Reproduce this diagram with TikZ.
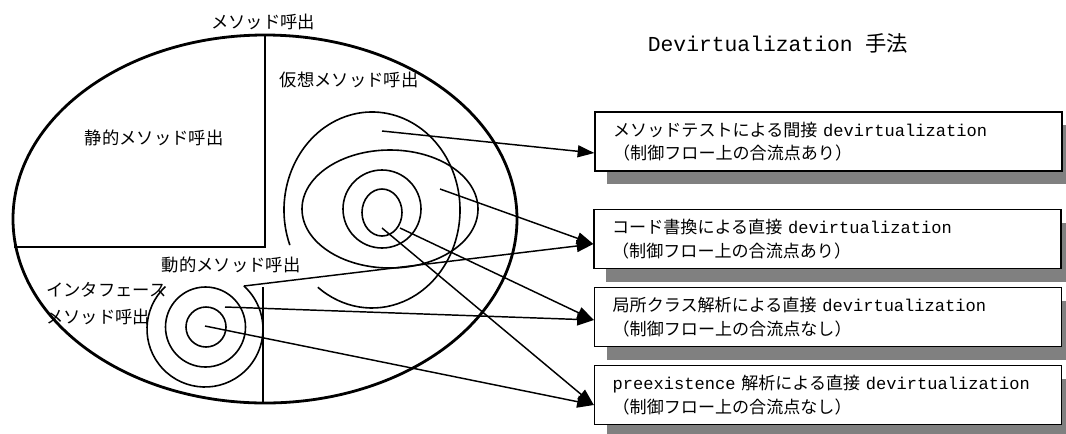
\documentclass[tikz,border=0pt]{standalone}
\usepackage{fontspec}
\setmonofont{Liberation Mono}
\newfontfamily\jp{Noto Sans CJK JP}
\usetikzlibrary{arrows.meta,shadows,calc}
\begin{document}
\begin{tikzpicture}[x=0.75pt,y=-0.75pt,
  lbl/.style={font=\jp\fontsize{13pt}{15pt}\selectfont, inner sep=0pt},
  frame/.style={line width=2.1pt},
  div/.style={line width=1.7pt},
  spiral/.style={line width=1.2pt},
  thinline/.style={line width=0.8pt},
  conn/.style={line width=1.1pt, -{Triangle[length=12.5pt,width=9pt]}},
  tbox/.style={draw, line width=1pt, fill=white, minimum width=350.25pt, minimum height=44.25pt,
    inner xsep=13.5pt, text width=323pt, align=left,
    font=\jp\fontsize{12.8pt}{17.5pt}\selectfont,
    drop shadow={shadow xshift=9pt, shadow yshift=-9.75pt, fill=black!50, opacity=1}},
]
\useasboundingbox (0,0) rectangle (1066,433);

% outer ellipse and dividers
\draw[frame] (265,219) ellipse [x radius=252, y radius=184];
\draw[div] (265,35) -- (265,247) -- (14,247);
\draw[thinline] (263,287) -- (263,403);

% virtual call spirals
\draw[spiral] ([shift={(159:88 and 98)}]372,210) arc[start angle=159, end angle=488, x radius=88, y radius=98];
\draw[spiral] (390,209) ellipse[x radius=88, y radius=59];
\draw[spiral] (382,209) ellipse[x radius=39, y radius=39];
\draw[spiral] (382,212.5) ellipse[x radius=20, y radius=23.5];

% interface call spirals
\draw[spiral] ([shift={(227:58)}]205,329) arc[start angle=227, end angle=-48, radius=58];
\draw[spiral] (205.5,327) circle[radius=40];
\draw[spiral] (206,327) circle[radius=20];

% labels
\node[lbl] (top) at (263,22) {メソッド呼出};
\node[lbl] (st) at (154,138) {静的メソッド呼出};
\node[lbl] (vi) at (349,80) {仮想メソッド呼出};
\node[lbl] (dy) at (231,265) {動的メソッド呼出};
\node[lbl, anchor=west] (if1) at (46,290) {インタフェース};
\node[lbl, anchor=west] (if2) at (46,317) {メソッド呼出};
\node[font=\ttfamily\fontsize{16pt}{19pt}\selectfont, inner sep=0pt] (dv) at (778,43) {Devirtualization {\jp 手法}};

% technique boxes
\node[tbox] (b1) at (828.5,141.5) {メソッドテストによる間接 {\ttfamily devirtualization}\\（制御フロー上の合流点あり）};
\node[tbox] (b2) at (827.5,239) {コード書換による直接 {\ttfamily devirtualization}\\（制御フロー上の合流点あり）};
\node[tbox] (b3) at (828,317) {局所クラス解析による直接 {\ttfamily devirtualization}\\（制御フロー上の合流点なし）};
\node[tbox] (b4) at (828,395) {{\ttfamily preexistence} 解析による直接 {\ttfamily devirtualization}\\（制御フロー上の合流点なし）};

% connector start points
\coordinate (s1) at (382,131);
\coordinate (s2) at (440,189);
\coordinate (s3) at (244,286);
\coordinate (s4) at (400,228);
\coordinate (s5) at (382,228);
\coordinate (s6) at (225,307);
\coordinate (s7) at (205,326);

\draw[conn] (s1) -- ($(b1.west)+(0,11.5)$);
\draw[conn] (s2) -- ($(b2.west)+(0,5)$);
\draw[conn] (s3) -- ($(b2.west)+(0,5)$);
\draw[conn] (s4) -- ($(b3.west)+(0,3)$);
\draw[conn] (s6) -- ($(b3.west)+(0,3)$);
\draw[conn] (s5) -- ($(b4.west)+(0,10)$);
\draw[conn] (s7) -- ($(b4.west)+(0,10)$);
\end{tikzpicture}
\end{document}
